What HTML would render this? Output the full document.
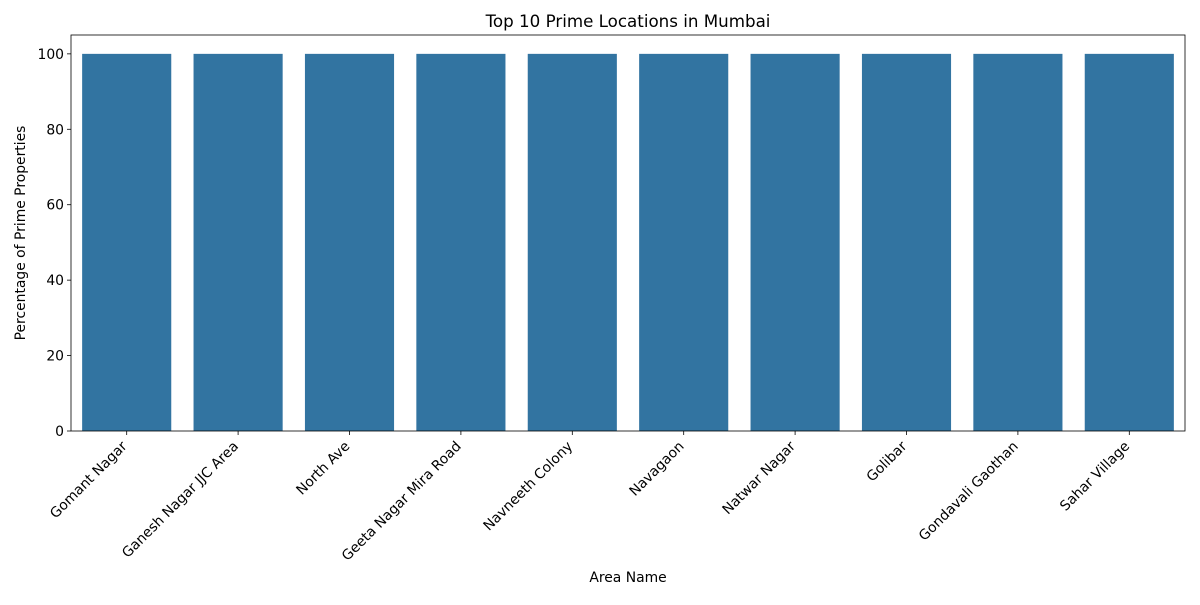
<!DOCTYPE html>
<html><head><meta charset="utf-8"><style>
body{margin:0;background:#fff;}
svg text{font-family:"DejaVu Sans","Liberation Sans",sans-serif;fill:#000;}
</style></head><body>
<svg id="chart" width="1200" height="600" viewBox="0 0 1200 600">
<text x="628" y="27" font-size="16.7" text-anchor="middle">Top 10 Prime Locations in Mumbai</text>
<g id="plot"></g>
<text x="628" y="582" font-size="13.9" text-anchor="middle">Area Name</text>
<text transform="translate(25,233) rotate(-90)" font-size="13.9" text-anchor="middle">Percentage of Prime Properties</text>
</svg>
<script>
const categories=["Gomant Nagar","Ganesh Nagar JJC Area","North Ave","Geeta Nagar Mira Road","Navneeth Colony","Navagaon","Natwar Nagar","Golibar","Gondavali Gaothan","Sahar Village"];
const values=[100,100,100,100,100,100,100,100,100,100];
const yTicks=[0,20,40,60,80,100];
const L=71,R=1185,T=35,B=431,yMax=105;
const ns="http://www.w3.org/2000/svg";
const g=document.getElementById('plot');
const xs=i=>L+(i+0.5)*(R-L)/categories.length;
const ys=v=>B-(v/yMax)*(B-T);
const bw=0.8*(R-L)/categories.length;
function mk(t,a){const e=document.createElementNS(ns,t);for(const k in a)e.setAttribute(k,a[k]);g.appendChild(e);return e;}
values.forEach((v,i)=>{
 const r=mk('rect',{x:xs(i)-bw/2,y:ys(v),width:bw,height:B-ys(v),fill:'#3274a1'});
 
 
 const tk=mk('line',{x1:xs(i),x2:xs(i),y1:B,y2:B+4,stroke:'#000','stroke-width':0.8});
 
 
 const ax=xs(i)+1, ay=B+16;
 const t=mk('text',{x:ax,y:ay,'font-size':13.9,'text-anchor':'end',transform:`rotate(-45 ${ax} ${ay})`});
 t.textContent=categories[i];
 
 
});
yTicks.forEach(v=>{
 const tk=mk('line',{x1:L-4,x2:L,y1:ys(v),y2:ys(v),stroke:'#000','stroke-width':0.8});
 
 
 const t=mk('text',{x:L-7,y:ys(v)+5,'font-size':13.9,'text-anchor':'end'});
 t.textContent=v;
 
 
});
const fr=mk('rect',{x:L,y:T,width:R-L,height:B-T,fill:'none',stroke:'#000','stroke-width':0.8});


</script>
</body></html>
